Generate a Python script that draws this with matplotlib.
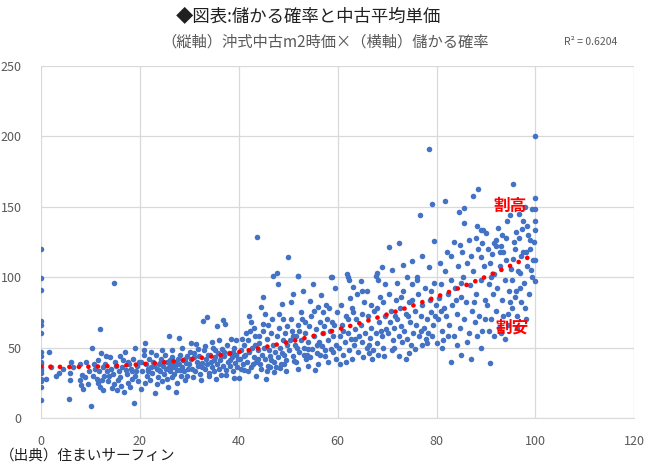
import numpy as np
import matplotlib
matplotlib.use("Agg")
import matplotlib.pyplot as plt

plt.rcParams['font.family'] = ['Noto Sans CJK JP', 'DejaVu Sans']

# ---- data (x: 儲かる確率, y: 沖式中古m2時価) ----
x_a = [0, 0, 0, 0, 0, 0, 0, 0, 0, 0, 0, 0, 0, 0, 0, 0, 0]
y_a = [120, 99, 91, 69, 66, 60, 47, 44, 40, 36, 32, 28, 26, 22, 13, 38, 34]

x_b = [1.6, 1, 2, 3.7, 4.5, 5.8, 5.8, 5.7, 6.5, 7.8, 7.8, 8.3, 8, 8.5, 9.2, 9.5, 9.8, 3, 6, 9]
y_b = [47, 28, 36, 32, 35, 32, 27, 13.5, 36, 38, 27, 30.5, 23.5, 20.5, 40, 24, 33, 30, 40, 29]

x_c = [10.3, 10.2, 11.9, 12.2, 11, 11.3, 11.6, 12, 12.5, 12.8, 13, 13.3, 13.6, 14, 14.2, 14.5, 14.7, 14.8,
       15, 15.2, 15.5, 15.4, 15.8, 16, 16.3, 16.6, 17, 17.2, 17.4, 17.6, 17.9, 18, 18.2, 18.5, 18.7, 18.9,
       19.1, 19.3, 19.5, 19.7, 19.9, 10.8, 11.5, 12.6, 13.8, 14.3, 16.1, 16.8, 17.7, 19, 10.5, 13.1, 15.9,
       18.4, 11.8, 12.3]
y_c = [49.4, 8.5, 63, 46.3, 35, 28, 25, 22, 20, 30, 38, 33, 26, 43, 35, 31, 95.5, 24,
       40, 37, 27, 20, 33, 29, 36, 41, 46.6, 34, 31, 25, 38, 22, 35, 28, 42, 10.4,
       49.6, 33, 37, 26, 40, 38, 41, 36, 30, 21, 23, 18.5, 40, 30, 30, 44, 44,
       33, 33, 27]

x_d = [20.2, 20.5, 20.8, 20.8, 21, 21.2, 21.4, 21.6, 21.8, 22, 22.2, 22.5, 22.7, 23, 23.2, 23.4, 23.6,
       23.8, 24, 24.2, 24.4, 24.6, 24.8, 25, 25.2, 25.4, 25.6, 25.8, 26, 26.2, 26.4, 26.6, 26.8, 27, 27.2,
       27.4, 27.6, 27.9, 28, 28.2, 28.4, 28.6, 28.8, 29, 29.2, 29.4, 29.6, 29.8, 20.3, 21, 22.3, 23.5,
       24.5, 25.5, 26.5, 27.5, 28.5, 29.5, 22.9, 24.1, 26.1, 27.1, 28.1, 29.1, 21.7, 23.9, 25.9, 27.8]
y_d = [20.4, 33, 48, 45, 53.4, 38, 30, 35, 42, 27, 36, 32, 40, 17.5, 45, 35, 29,
       38, 33, 42, 26, 37, 31, 45, 35, 40, 21.8, 58.4, 33, 38, 29, 43, 36, 31, 40,
       18.2, 34, 56.5, 38, 45, 30, 36, 41, 33, 27, 39, 44, 35, 40, 25, 47, 24,
       48, 28, 48, 25, 50, 30, 37, 39, 41, 37, 34, 42, 33, 34, 36, 42]

x_e = [30.3, 31.3, 32.7, 33.5, 35.5, 36.9, 37.3, 39, 40, 36.5, 37.5,
       30, 30.4, 30.6, 30.9, 31.1, 31.5, 31.8, 32, 32.2, 32.5, 32.9, 33.1, 33.4, 33.6, 33.9, 34.1, 34.3,
       34.6, 34.8, 35, 35.2, 35.6, 35.8, 36, 36.3, 36.7, 36.9, 37.1, 37.4, 37.7, 37.9, 38.1, 38.3, 38.6,
       38.8, 39, 39.2, 39.5, 39.7, 39.9, 30.8, 32.4, 34, 35.4, 36.1, 38.5, 31.7, 33.2, 34.5, 37, 38.9,
       39.4, 31, 32.6, 34.9, 36.5, 38.2, 35.1, 33.8, 30.2]
y_e = [53.4, 52.5, 69, 71.8, 65.5, 69.5, 67, 28.6, 28.6, 30.5, 30.5,
       38, 42, 35, 46, 33, 40, 37, 44, 31, 39, 48, 35, 42, 38, 30, 45, 40,
       36, 50, 33, 43, 38, 46, 35, 41, 49, 37, 44, 34, 52, 40, 46, 37, 43,
       33, 50, 39, 45, 36, 42, 29, 27, 32, 28, 55, 56, 49, 51, 54, 47, 47,
       55, 43, 36, 41, 44, 41, 48, 45, 47]

x_f = [43.7, 44.8, 44.5, 45.4, 46.9, 47.7, 48, 48.7, 47.2, 48.3, 42, 42.5, 43, 41.5, 46, 49, 44, 41,
       43.5, 45.5, 49.5,
       40.2, 40.5, 40.8, 41, 41.3, 41.6, 41.9, 42.1, 42.4, 42.7, 43, 43.2, 43.5, 43.8, 44.1, 44.3, 44.6,
       44.9, 45.1, 45.3, 45.7, 45.9, 46.1, 46.4, 46.6, 46.9, 47.1, 47.4, 47.7, 47.9, 48.1, 48.4, 48.6,
       48.9, 49.1, 49.3, 49.6, 49.8, 40.4, 41.8, 42.9, 44.4, 45.8, 46.3, 47.6, 49.2, 40.7, 42.2, 43.3,
       45, 46.7, 48.2, 49.7, 41.1, 43.9, 46.5, 48.8]
y_f = [128.6, 86, 78.5, 73.5, 101, 103, 95, 81, 32.8, 35.5, 72, 68, 64, 60, 66, 70, 58, 34,
       30, 28, 33,
       42, 48, 38, 52, 45, 40, 55, 47, 36, 50, 43, 58, 40, 48, 53, 38, 45,
       62, 50, 42, 56, 37, 48, 44, 60, 52, 40, 47, 58, 43, 64, 50, 38,
       55, 45, 60, 41, 52, 35, 33, 38, 35, 33, 36, 36, 38, 56, 62, 52,
       67, 70, 74, 65, 44, 42, 41, 46]

x_g = [49.9, 52, 50.5, 54.4, 56.1, 56.6, 57.6, 58.8, 53, 55, 51, 57, 59.5,
       52, 54, 56, 58, 59.7, 51.5, 55.5, 57.5, 53.5,
       50.1, 50.4, 50.7, 51, 51.3, 51.6, 51.9, 52.2, 52.5, 52.8, 53.1, 53.4, 53.7, 54, 54.2, 54.6, 54.9,
       55.2, 55.6, 55.9, 56.2, 56.5, 56.8, 57.1, 57.4, 57.8, 58.1, 58.4, 58.7, 59, 59.3, 59.6, 59.9,
       50.6, 52.6, 54.4, 55.3, 56.4, 58.2, 59.1, 50.9, 53.3, 57.3, 51.8, 58.9, 55.8, 53.9, 52.1]
y_g = [114, 101, 82, 83, 79, 87, 80, 100, 90, 95, 88, 75, 92,
       35, 37, 38, 40, 42, 40, 34, 44, 42,
       48, 55, 62, 44, 52, 58, 66, 47, 55, 70, 50, 60, 45, 54, 65, 72, 49,
       58, 63, 46, 54, 68, 51, 60, 48, 70, 55, 62, 49, 58, 66, 52, 75,
       70, 75, 43, 76, 45, 78, 47, 58, 68, 65, 50, 68, 52, 49, 62]

x_h = [60.5, 61.9, 64.7, 66.4, 67.8, 69, 70.3, 68, 65, 63, 62.5, 69.5, 51.9, 58.7, 62, 62.2, 68.2,
       51.2, 53.6, 53.2,
       60.2, 60.5, 60.8, 61.1, 61.4, 61.7, 62, 62.3, 62.6, 62.9, 63.2, 63.5, 63.8, 64.1, 64.4, 64.7, 65,
       65.3, 65.6, 65.9, 66.2, 66.5, 66.8, 67.1, 67.4, 67.7, 68, 68.3, 68.6, 68.9, 69.2, 69.5, 69.8,
       60.7, 61.6, 62.8, 64, 65.2, 66, 67, 68.1, 69.4, 63, 66.7, 61, 62.1, 64.9, 67.9, 69.1, 63.6, 66.3,
       68.7]
y_h = [38.3, 102, 97.4, 46, 101, 107, 121, 103, 90, 93, 85, 95, 100.7, 99.8, 100, 98, 98,
       40.6, 43, 45,
       50, 58, 66, 45, 54, 72, 60, 48, 56, 78, 52, 63, 70, 47, 58, 66, 54,
       82, 60, 50, 72, 57, 64, 48, 76, 60, 53, 68, 86, 58, 50, 72, 63,
       80, 40, 42, 88, 43, 90, 42, 45, 44, 75, 80, 62, 70, 74, 78, 82, 56, 52,
       62]

x_i = [72.3, 76.7, 79, 78.5, 79.4, 75, 73.3, 78.5, 71, 77, 74, 76,
       71.3, 75.7, 78, 80, 72.5, 74.5, 77, 73.8,
       70.2, 70.5, 70.8, 71.1, 71.4, 71.7, 72, 72.3, 72.6, 72.9, 73.2, 73.5, 73.8, 74.1, 74.4, 74.7, 75,
       75.3, 75.6, 75.9, 76.2, 76.5, 76.8, 77.1, 77.4, 77.7, 78, 78.3, 78.6, 78.9, 79.2, 79.5, 79.8,
       70.4, 71.9, 73.1, 74.9, 76.1, 77.8, 79, 70.9, 72.8, 75.1, 76.9, 78.8, 79.6, 74.2, 71.5]
y_i = [124, 144, 151.6, 190.6, 125.5, 111, 108.5, 107, 105, 115, 100, 98,
       49.4, 49, 53, 53, 44, 46, 52, 42,
       60, 68, 76, 55, 64, 84, 70, 58, 78, 65, 90, 62, 74, 56, 82, 68, 95,
       60, 76, 66, 88, 58, 72, 80, 64, 92, 70, 60, 84, 75, 66, 96, 80,
       88, 96, 54, 52, 100, 56, 58, 48, 86, 84, 62, 90, 72, 72, 72]

x_j = [81.7, 87.3, 88.4, 84.5, 85.6, 85.6, 88.1, 88.9, 88, 84.7, 82.9, 86.9, 88.9, 83, 85, 87, 89, 81,
       80.2, 80.5, 80.8, 81.1, 81.4, 81.7, 82, 82.3, 82.6, 82.9, 83.2, 83.5, 83.8, 84.1, 84.4, 84.7, 85,
       85.3, 85.6, 85.9, 86.2, 86.5, 86.8, 87.1, 87.4, 87.7, 88, 88.3, 88.6, 88.9, 89.2, 89.5, 89.8,
       80.6, 82.1, 83.6, 85.1, 86.6, 89.1, 81.3, 84.2, 86.1, 88.2, 89.7, 80.9, 83.9, 87.6, 82.4, 84.9]
y_j = [154, 157.5, 162.4, 146, 149, 138, 136.4, 133, 127.7, 122.7, 115, 115, 114, 40, 45, 42, 50, 50,
       70, 85, 95, 62, 78, 104, 72, 88, 66, 98, 80, 58, 92, 74, 108, 64, 86,
       100, 70, 82, 110, 60, 94, 76, 104, 68, 88, 120, 72, 98, 62, 108, 84,
       110, 118, 125, 118, 126, 124, 55, 52, 54, 58, 70, 76, 84, 82, 58, 96]

x_k = [95.5, 94.2, 94.8, 98.2, 96.7, 91.7, 92, 93, 93.5, 92.8, 95.5, 96.9, 95.2, 94.8, 93.8, 90.9,
       89.3, 90, 97, 98.8, 99, 91, 96,
       90.2, 90.5, 90.8, 91.1, 91.4, 91.7, 92, 92.3, 92.6, 92.9, 93.2, 93.5, 93.8, 94.1, 94.4, 94.7, 95,
       95.3, 95.6, 95.9, 96.2, 96.5, 96.8, 97.1, 97.4, 97.7, 98, 98.3, 98.6, 98.9, 99.2, 99.5,
       90.6, 91.6, 93, 94.5, 96.3, 97.9, 90.4, 92.1, 96.1, 97.5, 99.3,
       97.8, 98.5, 99.6, 95.8, 94, 92.4, 96.6, 91.2, 93.3, 98.1, 99.8, 97.2]
y_k = [165.7, 139.7, 144, 136, 127.5, 124, 122, 122, 118, 117.7, 113, 103, 97.9, 82.5, 56, 38.8,
       133, 131, 115, 120, 105, 100, 90,
       80, 95, 110, 70, 88, 102, 76, 92, 64, 108, 84, 72, 98, 112, 66, 90, 106,
       78, 125, 86, 72, 104, 92, 82, 118, 96, 70, 108, 88, 126, 100, 112,
       62, 58, 60, 74, 64, 78, 120, 126, 132, 140, 148,
       150, 130, 125, 120, 128, 135, 145, 116, 130, 118, 112, 134]

x_l = [100, 100, 100, 100, 100, 100]
y_l = [200, 156, 148, 140, 133, 97]

x_ticks = [0, 20, 40, 60, 80, 100, 120]
y_ticks = [0, 50, 100, 150, 200, 250]

title = "◆図表:儲かる確率と中古平均単価"
subtitle = "（縦軸）沖式中古m2時価×（横軸）儲かる確率"
r2_label = "R² = 0.6204"
source = "（出典）住まいサーフィン"

xs = np.array(x_a + x_b + x_c + x_d + x_e + x_f + x_g + x_h + x_i + x_j + x_k + x_l, dtype=float)
ys = np.array(y_a + y_b + y_c + y_d + y_e + y_f + y_g + y_h + y_i + y_j + y_k + y_l, dtype=float)

fig = plt.figure(figsize=(6.5, 4.72), dpi=100)
ax = fig.add_axes([0.063, 0.1144, 0.913, 0.7468])

ax.scatter(xs, ys, s=16, color='#4472C4', linewidths=0, zorder=3)

# polynomial (order 2) trend line
coef = np.polyfit(xs, ys, 2)
tx = np.linspace(xs.min(), xs.max(), 400)
ax.plot(tx, np.polyval(coef, tx), color='#FF0000', lw=3.4,
        linestyle=(0, (0.01, 2.0)), dash_capstyle='round', zorder=4)

ax.set_xlim(0, 120)
ax.set_ylim(0, 250)
ax.set_xticks(x_ticks)
ax.set_yticks(y_ticks)
ax.grid(True, color='#D9D9D9', lw=0.9, zorder=0)
for s in ['top', 'right', 'left']:
    ax.spines[s].set_visible(False)
ax.spines['bottom'].set_color('#D9D9D9')
ax.tick_params(length=0, labelsize=9, colors='#595959', pad=12)
ax.tick_params(axis='y', pad=14)

ax.text(94.8, 150.4, "割高", color='#FF0000', fontsize=12, fontweight='bold',
        ha='center', va='center', zorder=5)
ax.text(95.2, 64.2, "割安", color='#FF0000', fontsize=12, fontweight='bold',
        ha='center', va='center', zorder=5)

fig.text(0.475, 0.966, title, fontsize=12.5, color='#202020', ha='center', va='center')
fig.text(0.50, 0.911, subtitle, fontsize=11, color='#595959', ha='center', va='center')
fig.text(0.908, 0.911, r2_label, fontsize=7.5, color='#595959', ha='center', va='center')
fig.text(0.0, 0.035, source, fontsize=10.5, color='#202020', ha='left', va='center')

fig.savefig("out.png", dpi=100)
